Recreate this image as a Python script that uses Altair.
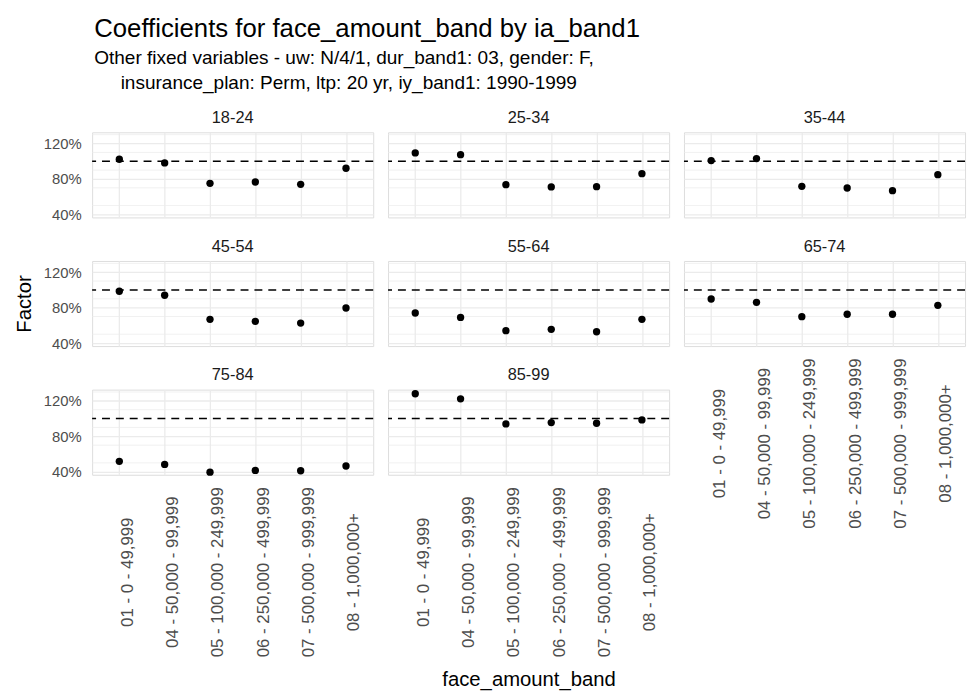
import altair as alt
import pandas as pd

bands = ["01 - 0 - 49,999", "04 - 50,000 - 99,999", "05 - 100,000 - 249,999",
         "06 - 250,000 - 499,999", "07 - 500,000 - 999,999", "08 - 1,000,000+"]
ages = ["18-24", "25-34", "35-44", "45-54", "55-64", "65-74", "75-84", "85-99"]

f_18_24 = [1.023, 0.981, 0.751, 0.766, 0.740, 0.921]
f_25_34 = [1.094, 1.075, 0.736, 0.710, 0.713, 0.860]
f_35_44 = [1.008, 1.030, 0.717, 0.698, 0.668, 0.849]
f_45_54 = [0.985, 0.940, 0.668, 0.645, 0.626, 0.796]
f_55_64 = [0.740, 0.690, 0.540, 0.555, 0.528, 0.668]
f_65_74 = [0.898, 0.860, 0.698, 0.725, 0.725, 0.826]
f_75_84 = [0.517, 0.483, 0.395, 0.415, 0.411, 0.465]
f_85_99 = [1.280, 1.223, 0.940, 0.955, 0.947, 0.985]

series = [f_18_24, f_25_34, f_35_44, f_45_54, f_55_64, f_65_74, f_75_84, f_85_99]

major_ticks = [0.4, 0.6, 0.8, 1.0, 1.2]
minor_ticks = [0.5, 0.7, 0.9, 1.1, 1.3]

FONT = "Liberation Sans"
W, H = 284, 86
TICK_FS = 16.5
YLAB_FS = 15
GRID = "#ebebeb"


def yscale():
    return alt.Scale(domain=[0.366, 1.327], nice=False, zero=False)


def make_yaxis(col, y_title_color):
    if col == 0:
        return alt.Axis(title="Factor", values=major_ticks, format=".0%",
                        labelOverlap=False, labelSeparation=0,
                        ticks=False, domain=False, labelFontSize=YLAB_FS, labelColor="#4d4d4d",
                        labelFont=FONT, labelPadding=11, gridColor=GRID, gridWidth=1.3,
                        titleFontSize=20.5, titleFont=FONT, titleFontWeight="normal",
                        titleColor=y_title_color, titlePadding=9)
    return alt.Axis(title=None, values=major_ticks, labels=False, ticks=False, domain=False,
                    gridColor=GRID, gridWidth=1.3)


def panel(idx, col, show_x, x_title, y_title_color):
    age = ages[idx]
    df = pd.DataFrame({"face_amount_band": bands, "factor": series[idx]})
    minor_df = pd.DataFrame({"factor": minor_ticks})
    base = alt.Chart(df)
    if show_x:
        xaxis = alt.Axis(title=x_title if x_title else None, labelAngle=-90, labelAlign="center",
                         labelBaseline="top", labelPadding=98, ticks=False, domain=False,
                         labelFontSize=17, labelColor="#4d4d4d", labelFont=FONT,
                         labelLimit=400, labelOverlap=False,
                         grid=True, gridColor=GRID, gridWidth=1.3,
                         titleFontSize=20.5, titleFont=FONT, titleFontWeight="normal",
                         titleColor="black", titlePadding=13)
    else:
        xaxis = alt.Axis(title=None, labels=False, ticks=False, domain=False,
                         grid=True, gridColor=GRID, gridWidth=1.3)

    minor = alt.Chart(minor_df).mark_rule(color=GRID, strokeWidth=0.7).encode(
        y=alt.Y("factor:Q", scale=yscale(), axis=make_yaxis(col, y_title_color))
    )
    points = base.mark_circle(size=55, color="black", opacity=1).encode(
        x=alt.X("face_amount_band:N", sort=bands,
                scale=alt.Scale(type="point", padding=0.6), axis=xaxis),
        y=alt.Y("factor:Q", scale=yscale(), axis=make_yaxis(col, y_title_color)),
    )
    rule = base.transform_aggregate(n="count()").mark_rule(
        color="black", strokeDash=[8, 6], strokeWidth=1.5
    ).encode(y=alt.datum(1.0))
    return alt.layer(minor, points, rule).properties(
        width=W, height=H,
        title=alt.TitleParams(age, fontSize=TICK_FS, font=FONT, fontWeight="normal",
                              color="#1a1a1a", anchor="middle", offset=6),
    )


ROW_SP = 44
col1 = alt.vconcat(panel(0, 0, False, None, "transparent"),
                   panel(3, 0, False, None, "black"),
                   panel(6, 0, True, None, "transparent"), spacing=ROW_SP, bounds="flush")
col2 = alt.vconcat(panel(1, 1, False, None, None),
                   panel(4, 1, False, None, None),
                   panel(7, 1, True, "face_amount_band", None), spacing=ROW_SP, bounds="flush")
col3 = alt.vconcat(panel(2, 2, False, None, None),
                   panel(5, 2, True, None, None), spacing=ROW_SP, bounds="flush")

chart = alt.hconcat(col1, col2, col3, spacing=11).properties(
    title=alt.TitleParams(
        text="Coefficients for face_amount_band by ia_band1",
        subtitle=["Other fixed variables - uw: N/4/1, dur_band1: 03, gender: F,",
                  "\u200b\u00a0\u00a0\u00a0\u00a0\u00a0insurance_plan: Perm, ltp: 20 yr, iy_band1: 1990-1999"],
        anchor="start", font=FONT, fontSize=26, fontWeight="normal", color="black",
        subtitleFont=FONT, subtitleFontSize=19.2, subtitleColor="black", subtitlePadding=8,
        subtitleLineHeight=24.5,
        offset=17, dx=81,
    ),
    padding={"left": 6, "top": 4, "right": 2, "bottom": 5},
).configure_view(stroke=None).configure_axis(labelOverlap=False).configure(background="white")

chart.save("out.html", embed_options={"renderer": "svg", "actions": False})
